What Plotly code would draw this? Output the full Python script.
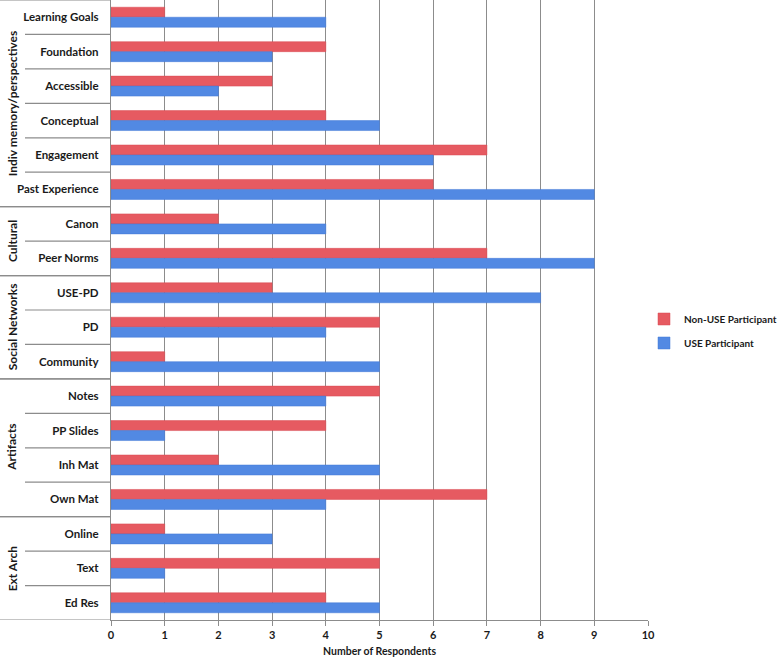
import plotly.graph_objects as go

groups = ["Indiv memory/perspectives", "Cultural", "Social Networks", "Artifacts", "Ext Arch"]
group_items = [
    ["Learning Goals", "Foundation", "Accessible", "Conceptual", "Engagement", "Past Experience"],
    ["Canon", "Peer Norms"],
    ["USE-PD", "PD", "Community"],
    ["Notes", "PP Slides", "Inh Mat", "Own Mat"],
    ["Online", "Text", "Ed Res"],
]
non_use = [1, 4, 3, 4, 7, 6, 2, 7, 3, 5, 1, 5, 4, 2, 7, 1, 5, 4]
use = [4, 3, 2, 5, 6, 9, 4, 9, 8, 4, 5, 4, 1, 5, 4, 3, 1, 5]
series_names = ["Non-USE Participant", "USE Participant"]
x_ticks = list(range(0, 11))

categories = [c for items in group_items for c in items]
cat_ids = list(range(len(categories)))

FONT = "Lato"
TXT = "#1a1a1a"
LINE = "#8c8c8c"

fig = go.Figure()
fig.add_trace(go.Bar(
    y=cat_ids, x=non_use, orientation="h", name=series_names[0], legendgroup="a",
    marker=dict(color="#E65A61", line=dict(color="#D94A52", width=0.5)),
))
fig.add_trace(go.Bar(
    y=cat_ids, x=use, orientation="h", name=series_names[1], legendgroup="b",
    marker=dict(color="#5289E3", line=dict(color="#4279D6", width=0.5)),
))

W, H = 779, 659
ml, mr, mt, mb = 111, 131, 0, 39
pw = W - ml - mr

def px_to_paper(px):
    return (px - ml) / pw

shapes = []
annotations = []
start = 0
for g, items in zip(groups, group_items):
    n = len(items)
    for b in (start - 0.5, start + n - 0.5):
        shapes.append(dict(type="line", xref="paper", yref="y",
                           x0=px_to_paper(0), x1=0, y0=b, y1=b,
                           line=dict(color=LINE, width=1.2)))
    for k in range(1, n):
        b = start + k - 0.5
        shapes.append(dict(type="line", xref="paper", yref="y",
                           x0=px_to_paper(25), x1=0, y0=b, y1=b,
                           line=dict(color=LINE, width=1.2)))
    annotations.append(dict(
        text=g, xref="paper", yref="y", x=px_to_paper(12), y=start + (n - 1) / 2,
        textangle=-90, showarrow=False, xanchor="center", yanchor="middle",
        font=dict(family=FONT, size=12, color=TXT, weight="bold"),
    ))
    start += n

fig.update_layout(
    width=W, height=H,
    margin=dict(l=ml, r=mr, t=mt, b=mb, autoexpand=False),
    paper_bgcolor="white", plot_bgcolor="white",
    barmode="group", bargap=0.42, bargroupgap=0,
    font=dict(family=FONT, size=12, color=TXT, weight="bold"),
    showlegend=True,
    legend=dict(xref="container", x=644 / W, xanchor="left",
                yref="container", y=1 - 331 / H, yanchor="middle",
                traceorder="grouped", font=dict(family=FONT, size=10, color=TXT, weight="bold"),
                itemwidth=30, tracegroupgap=5, bgcolor="rgba(0,0,0,0)",
                borderwidth=0),
    shapes=shapes,
    annotations=annotations,
    xaxis=dict(
        range=[0, 10], tickvals=x_ticks, ticktext=[str(t) for t in x_ticks],
        showgrid=True, gridcolor=LINE, gridwidth=1.2,
        showline=True, linecolor=LINE, linewidth=1.2,
        ticks="outside", ticklen=5, tickcolor=LINE, tickwidth=1.2,
        zeroline=False, mirror=False, automargin=False,
        tickfont=dict(family=FONT, size=11, color=TXT, weight="bold"),
        title=dict(text="Number of Respondents", standoff=7,
                   font=dict(family=FONT, size=10.5, color=TXT, weight="bold")),
    ),
    yaxis=dict(
        tickvals=cat_ids, ticktext=categories,
        range=[len(categories) - 0.5, -0.5],
        showgrid=False, zeroline=False, automargin=False,
        showline=True, linecolor=LINE, linewidth=1.2,
        ticks="", ticklabelstandoff=9,
        tickfont=dict(family=FONT, size=11.5, color=TXT, weight="bold"),
    ),
)

fig.write_html("out.html", config={"displayModeBar": False},
               post_script="document.body.style.margin='0';")
